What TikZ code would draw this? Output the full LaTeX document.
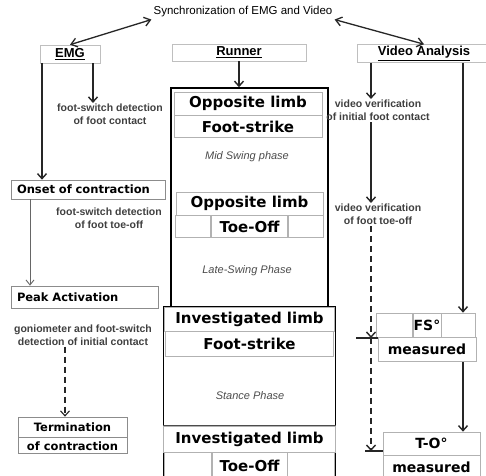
\documentclass[tikz,border=0pt]{standalone}
\usepackage{fontspec}
\setmainfont{Liberation Sans}
\newfontfamily\heavyfont{DejaVu Sans}
\usetikzlibrary{arrows.meta, positioning}

\begin{document}
\begin{tikzpicture}[x=1pt, y=-1pt, node distance=0pt,
  hdr/.style={draw=black!25, line width=0.6pt, inner sep=0pt,
              font=\fontsize{13}{15}\selectfont\bfseries},
  frame/.style={draw=black, line width=1.6pt, inner sep=0pt},
  cell/.style={draw=black!30, line width=0.7pt, inner sep=0pt,
               font=\fontsize{15}{17}\heavyfont\bfseries},
  smallcell/.style={draw=black!30, line width=0.7pt, inner sep=0pt,
               font=\fontsize{14}{16}\heavyfont\bfseries},
  evt/.style={draw=black!45, line width=0.7pt, inner sep=0pt,
              font=\fontsize{11.5}{13}\heavyfont\bfseries},
  note/.style={font=\fontsize{10.5}{13}\selectfont\bfseries, text=black!75,
               align=center, inner sep=1pt},
  phase/.style={font=\fontsize{11}{13}\selectfont\itshape, text=black!70},
  arr/.style={draw=black!85, line width=1.4pt,
              -{Straight Barb[length=5pt,width=9pt]}},
  thinarr/.style={draw=black!60, line width=0.9pt,
              -{Straight Barb[length=5pt,width=8pt]}},
  dasharr/.style={arr, dashed, dash pattern=on 6pt off 4pt},
  dbl/.style={draw=black!85, line width=1.3pt,
              {Straight Barb[length=6pt,width=9pt]}-{Straight Barb[length=6pt,width=9pt]}}]

  \useasboundingbox (0,0) rectangle (486,475);
  \fill[white] (0,0) rectangle (486,475);

  % title and the three headers
  \node[font=\fontsize{11.5}{13}\selectfont, inner sep=2pt] (sync) at (243,12)
    {Synchronization of EMG and Video};
  \node[hdr, minimum width=60, minimum height=18] (emg) at (70,54) {\underline{EMG}};
  \node[hdr, minimum width=134, minimum height=17] (runner) at (239,52.5) {\underline{Runner}};
  \node[hdr, minimum width=134, minimum height=18] (video) at (424,53.5) {\underline{Video Analysis}};

  % runner frames
  \node[frame, minimum width=157, minimum height=219] (swing) at (249.5,197.5) {};
  \node[frame, minimum width=172, minimum height=175] (stance) at (249.5,394.5) {};

  \node[cell, minimum width=148, minimum height=23] (os1) at (248,103.5) {Opposite limb};
  \node[cell, minimum width=148, minimum height=22, below=of os1] (os2) {Foot-strike};
  \node[phase] (mid) at (247,157) {Mid Swing phase};

  \node[cell, minimum width=147, minimum height=23] (ot1) at (249.5,203.5) {Opposite limb};
  \node[cell, minimum width=76, minimum height=22, below=of ot1] (ot2) {Toe-Off};
  \node[cell, minimum width=35.5, minimum height=22, left=of ot2] (otl) {};
  \node[cell, minimum width=35.5, minimum height=22, right=of ot2] (otr) {};
  \node[phase] (late) at (247,271) {Late-Swing Phase};

  \node[cell, minimum width=170, minimum height=24] (is1) at (249.5,319) {Investigated limb};
  \node[cell, minimum width=168, minimum height=25, below=of is1] (is2) {Foot-strike};
  \node[phase] (stp) at (250,396) {Stance Phase};

  \node[cell, minimum width=172, minimum height=26] (is3) at (249.5,439) {Investigated limb};
  \node[cell, minimum width=75, minimum height=26, below=of is3] (it3) {Toe-Off};
  \node[cell, minimum width=47, minimum height=26, left=of it3] (itl) {};
  \node[cell, minimum width=47, minimum height=26, right=of it3] (itr) {};
  \draw[black!70, line width=1pt] (is3.north west) -- (is3.north east);

  % EMG side
  \node[evt, minimum width=154, minimum height=19, text width=142, align=left]
    (onset) at (88,189.5) {Onset of contraction};
  \node[evt, minimum width=147, minimum height=22, text width=135, align=left]
    (peak) at (84.5,297) {Peak Activation};
  \node[evt, minimum width=109, minimum height=20] (term1) at (72.5,427) {Termination};
  \node[evt, minimum width=109, minimum height=16, below=of term1] (term2) {of contraction};

  \node[note] (lab1) at (110,114.5) {foot-switch detection\\of foot contact};
  \node[note] (lab2) at (109,218.5) {foot-switch detection\\of foot toe-off};
  \node[note] (lab3) at (83,335) {goniometer and foot-switch\\detection of initial contact};

  % video side
  \node[note] (lab4) at (378,110.5) {video verification\\of initial foot contact};
  \node[note] (lab5) at (378,214.5) {video verification\\of foot toe-off};

  \node[smallcell, minimum width=28, minimum height=24] (fs1) at (427,325) {FS°};
  \node[smallcell, minimum width=36, minimum height=24, left=of fs1] (fsl) {};
  \node[smallcell, minimum width=34, minimum height=24, right=of fs1] (fsr) {};
  \node[smallcell, minimum width=98, minimum height=24, below=of fs1] (fs2) {measured};

  \node[smallcell, minimum width=97, minimum height=23] (to1) at (431.5,443.5) {T-O°};
  \node[smallcell, minimum width=97, minimum height=23, below=of to1] (to2) {measured};

  \coordinate (fsmark) at (371,338);
  \coordinate (tomark) at (371,451);

  % connectors
  \draw[dbl] (sync.south west) -- (emg.north);
  \draw[dbl] (sync.south east) -- (video.north);
  \draw[arr] (runner.south) -- (runner.south |- swing.north);

  \draw[arr] (emg.south -| 42,0) -- (onset.north -| 42,0);
  \draw[arr] (emg.south -| 93,0) -- (lab1.north -| 93,0);
  \draw[thinarr] (onset.south -| 30,0) -- (peak.north -| 30,0);
  \draw[dasharr, line width=1.1pt] (lab3.south -| 65,0) -- (term1.north -| 65,0);

  \draw[arr] (video.south -| fsmark) -- (lab4.north -| fsmark);
  \draw[arr] (lab4.south -| fsmark) -- (lab5.north -| fsmark);
  \draw[dasharr] (lab5.south -| fsmark) -- (fsmark);
  \draw[dasharr] (fsmark) -- (tomark);
  \draw[black!85, line width=1.2pt] (fsmark -| 356,0) -- (fsmark -| fs2.west);
  \draw[black!85, line width=1.2pt] (tomark -| 365,0) -- (tomark -| to1.west);

  \draw[arr] (video.south -| 463,0) -- (fs1.north -| 463,0);
  \draw[arr] (fs2.south -| 463,0) -- (to1.north -| 463,0);
\end{tikzpicture}
\end{document}
